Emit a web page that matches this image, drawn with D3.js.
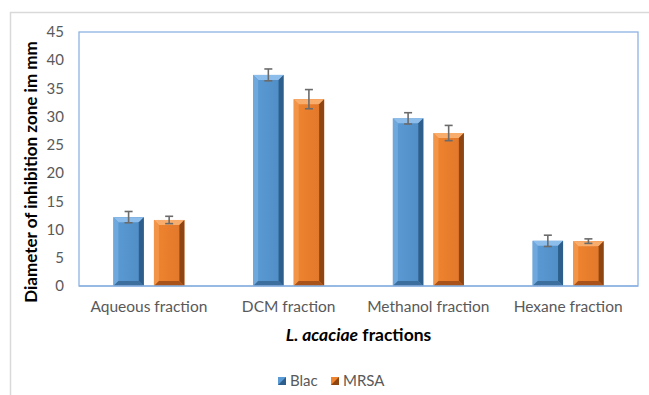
<!DOCTYPE html>
<html>
<head>
<meta charset="utf-8">
<script src="https://cdn.jsdelivr.net/npm/d3@7"></script>
<style>
  body { margin: 0; background: #fff; }
  svg text { font-family: Lato, "Open Sans", sans-serif; }
</style>
</head>
<body>
<div id="chart-container"></div>
<script>
// data
const categories = ["Aqueous fraction", "DCM fraction", "Methanol fraction", "Hexane fraction"];
const seriesNames = ["Blac", "MRSA"];
const blacValues = [12.2, 37.4, 29.7, 8.0];
const blacErrors = [1.0, 1.05, 1.0, 1.0];
const mrsaValues = [11.7, 33.1, 27.1, 7.95];
const mrsaErrors = [0.65, 1.7, 1.35, 0.4];
const yTicks = [0, 5, 10, 15, 20, 25, 30, 35, 40, 45];

const colors = {
  Blac: { face: "#5B9BD5", faceDark: "#4F8CC4", light: "#8DBDEA", side: "#2E5F8C", bottom: "#3C6E9E", left: "#6FA8DC" },
  MRSA: { face: "#F0852F", faceDark: "#E0762A", light: "#F9AD6C", side: "#8E4512", bottom: "#A9531A", left: "#F39548" }
};

const W = 649, H = 395;
const margin = { top: 32, right: 11, bottom: 109, left: 79 };
const width = W - margin.left - margin.right,
      height = H - margin.top - margin.bottom;

const data = categories.map((c, i) => ({
  cat: c,
  vals: [
    { s: "Blac", v: blacValues[i], e: blacErrors[i] },
    { s: "MRSA", v: mrsaValues[i], e: mrsaErrors[i] }
  ]
}));

const svg = d3.select("#chart-container")
  .append("svg")
  .attr("width", W)
  .attr("height", H);

// face gradients (lighter left, a bit darker right)
const defs = svg.append("defs");
seriesNames.forEach(s => {
  const gr = defs.append("linearGradient")
    .attr("id", "face-" + s)
    .attr("x1", "0").attr("x2", "1").attr("y1", "0").attr("y2", "0");
  gr.append("stop").attr("offset", "0%").attr("stop-color", colors[s].face);
  gr.append("stop").attr("offset", "100%").attr("stop-color", colors[s].faceDark);
});

// outer chart frame
svg.append("path")
  .attr("d", `M10.5,${H} V12.5 H${W}`)
  .attr("fill", "none")
  .attr("stroke", "#d9d9d9")
  .attr("stroke-width", 1.5);

const g = svg.append("g")
  .attr("transform", `translate(${margin.left},${margin.top})`);

const x = d3.scaleBand()
  .domain(categories)
  .range([0, width])
  .padding(0);

const x1 = d3.scaleBand()
  .domain(seriesNames)
  .range([0, 71])
  .paddingInner(0.25)
  .paddingOuter(0);

const y = d3.scaleLinear()
  .domain([0, 45])
  .range([height, 0]);

// plot border
g.append("rect")
  .attr("x", 0).attr("y", 0)
  .attr("width", width).attr("height", height)
  .attr("fill", "none")
  .attr("stroke", "#8DB3E2")
  .attr("stroke-width", 1.3);

// y tick labels
g.selectAll(".ytick")
  .data(yTicks)
  .enter()
  .append("text")
  .attr("x", -15)
  .attr("y", d => y(d))
  .attr("dy", "0.35em")
  .attr("text-anchor", "end")
  .style("font-size", "15px")
  .style("fill", "#595959")
  .text(d => d);

// bars with a bevel look
const bev = 5;
const groups = g.selectAll(".grp")
  .data(data)
  .enter()
  .append("g")
  .attr("transform", d => `translate(${x(d.cat) + (x.bandwidth() - 71) / 2},0)`);

const bars = groups.selectAll(".bar")
  .data(d => d.vals)
  .enter()
  .append("g");

bars.each(function (d) {
  const b = d3.select(this);
  const x0 = x1(d.s), x2 = x0 + x1.bandwidth();
  const y0 = y(d.v), y2 = y(0);
  const c = colors[d.s];
  const poly = pts => pts.map(p => p.join(",")).join(" ");
  b.append("rect")
    .attr("x", x0).attr("y", y0)
    .attr("width", x2 - x0).attr("height", y2 - y0)
    .attr("fill", `url(#face-${d.s})`);
  // top bevel
  b.append("polygon")
    .attr("points", poly([[x0, y0], [x2, y0], [x2 - bev, y0 + bev], [x0 + bev, y0 + bev]]))
    .attr("fill", c.light);
  // left bevel
  b.append("polygon")
    .attr("points", poly([[x0, y0], [x0 + bev, y0 + bev], [x0 + bev, y2 - bev], [x0, y2]]))
    .attr("fill", c.left);
  // right bevel
  b.append("polygon")
    .attr("points", poly([[x2, y0], [x2, y2], [x2 - bev, y2 - bev], [x2 - bev, y0 + bev]]))
    .attr("fill", c.side);
  // bottom bevel
  b.append("polygon")
    .attr("points", poly([[x0, y2], [x2, y2], [x2 - bev, y2 - bev], [x0 + bev, y2 - bev]]))
    .attr("fill", c.bottom);

  // error bar
  const cx = (x0 + x2) / 2;
  const eb = b.append("g").attr("stroke", "#6b6b6b").attr("stroke-width", 1.6);
  eb.append("line").attr("x1", cx).attr("x2", cx).attr("y1", y(d.v + d.e)).attr("y2", y(d.v - d.e));
  eb.append("line").attr("x1", cx - 4).attr("x2", cx + 4).attr("y1", y(d.v + d.e)).attr("y2", y(d.v + d.e));
  eb.append("line").attr("x1", cx - 4).attr("x2", cx + 4).attr("y1", y(d.v - d.e)).attr("y2", y(d.v - d.e));
});

// baseline
g.append("line")
  .attr("x1", 0).attr("x2", width)
  .attr("y1", y(0)).attr("y2", y(0))
  .attr("stroke", "#8DB3E2")
  .attr("stroke-width", 1.5);

// x labels
g.selectAll(".xlab")
  .data(categories)
  .enter()
  .append("text")
  .attr("x", d => x(d) + x.bandwidth() / 2)
  .attr("y", height + 21)
  .attr("dy", "0.35em")
  .attr("text-anchor", "middle")
  .style("font-size", "15.5px")
  .style("fill", "#595959")
  .text(d => d);

// x axis title
const xt = svg.append("text")
  .attr("x", margin.left + width / 2)
  .attr("y", 335)
  .attr("dy", "0.35em")
  .attr("text-anchor", "middle")
  .style("font-size", "17.5px")
  .style("font-weight", "bold")
  .style("fill", "#000");
xt.append("tspan").style("font-style", "italic").text("L. acaciae");
xt.append("tspan").text(" fractions");

// y axis title
svg.append("text")
  .attr("transform", "translate(31,172) rotate(-90)")
  .attr("dy", "0.35em")
  .attr("text-anchor", "middle")
  .style("font-size", "17px")
  .style("font-weight", "bold")
  .style("fill", "#000")
  .text("Diameter of inhibition zone im mm");

// legend
const legend = svg.append("g").attr("transform", "translate(278,381)");
const legX = [0, 53];
seriesNames.forEach((s, i) => {
  const lg = legend.append("g").attr("transform", `translate(${legX[i]},0)`);
  lg.append("rect").attr("x", 0).attr("y", -4).attr("width", 8).attr("height", 8).attr("fill", colors[s].face);
  lg.append("polygon").attr("points", "8,-4 8,4 0,4").attr("fill", colors[s].side);
  lg.append("text")
    .attr("x", 12).attr("y", 0).attr("dy", "0.35em")
    .style("font-size", "15px")
    .style("fill", "#595959")
    .text(s);
});
</script>
</body>
</html>
